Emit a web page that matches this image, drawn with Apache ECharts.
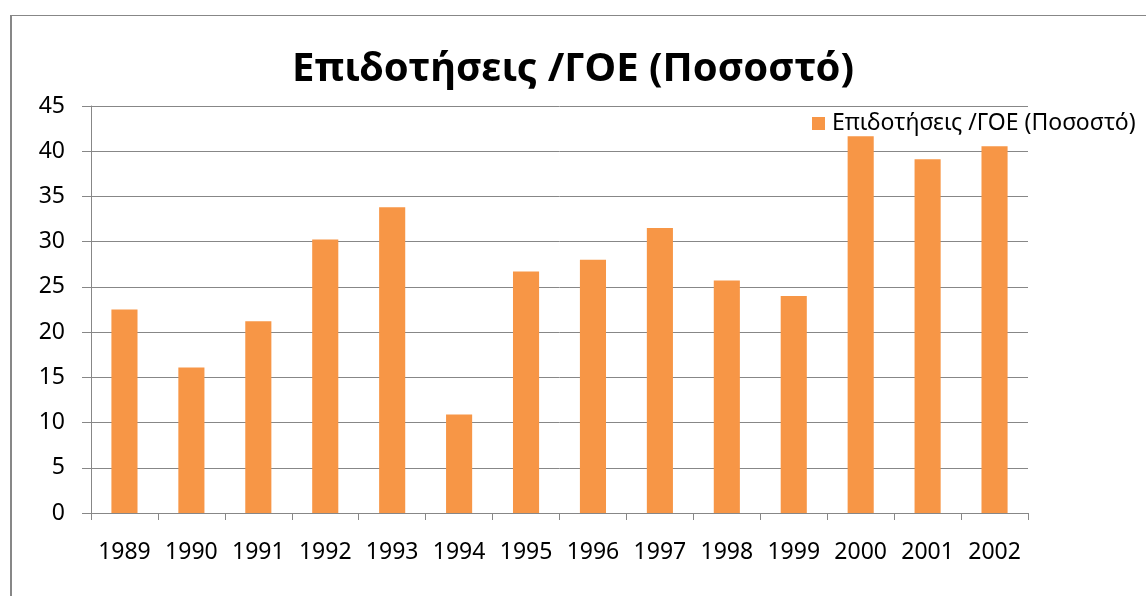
<!DOCTYPE html>
<html>
<head>
<meta charset="utf-8">
<script src="https://cdn.jsdelivr.net/npm/echarts@6/dist/echarts.min.js"></script>
<style>
html,body{margin:0;padding:0;background:#fff;}
#c{width:1146px;height:596px;}
</style>
</head>
<body>
<div id="c"></div>
<script>
var titleText = 'Επιδοτήσεις /ΓΟΕ (Ποσοστό)';
var seriesName = 'Επιδοτήσεις /ΓΟΕ (Ποσοστό)';
var categories = ['1989','1990','1991','1992','1993','1994','1995','1996','1997','1998','1999','2000','2001','2002'];
var values = [22.5, 16.1, 21.2, 30.25, 33.8, 10.9, 26.7, 28.0, 31.5, 25.7, 24.0, 41.65, 39.1, 40.55];
var yTicks = {min: 0, max: 45, interval: 5};

var FONT = '"Noto Sans", "DejaVu Sans", sans-serif';
var chart = echarts.init(document.getElementById('c'), null, {renderer: 'canvas'});
chart.setOption({
  backgroundColor: '#ffffff',
  animation: false,
  title: {
    text: titleText,
    left: 'center',
    top: 50,
    padding: 0,
    textStyle: {fontFamily: FONT, fontWeight: 'bold', fontSize: 40, color: '#000'}
  },
  legend: {
    data: [seriesName],
    left: 812,
    top: 112,
    padding: 0,
    itemWidth: 13,
    itemHeight: 13,
    itemGap: 6,
    icon: 'rect',
    textStyle: {fontFamily: FONT, fontSize: 23, color: '#000', padding: [0, 0, 0, 2]}
  },
  graphic: [
    {type: 'line', shape: {x1: 11, y1: 15, x2: 11, y2: 596}, style: {stroke: '#878787', lineWidth: 2}, silent: true},
    {type: 'line', shape: {x1: 10, y1: 15.5, x2: 1146, y2: 15.5}, style: {stroke: '#878787', lineWidth: 1}, silent: true}
  ],
  grid: {left: 91, right: 118, top: 106, bottom: 83, containLabel: false},
  xAxis: {
    type: 'category',
    data: categories,
    axisLine: {lineStyle: {color: '#878787', width: 1}},
    axisTick: {show: true, length: 7, lineStyle: {color: '#878787'}},
    axisLabel: {fontFamily: FONT, fontSize: 23, color: '#000', margin: 28, interval: 0, hideOverlap: false}
  },
  yAxis: {
    type: 'value',
    min: yTicks.min,
    max: yTicks.max,
    interval: yTicks.interval,
    axisLine: {show: true, lineStyle: {color: '#878787', width: 1}},
    axisTick: {show: true, length: 9, lineStyle: {color: '#878787'}},
    splitLine: {show: true, lineStyle: {color: '#878787', width: 1}},
    axisLabel: {fontFamily: FONT, fontSize: 23, color: '#000', margin: 26}
  },
  series: [{
    name: seriesName,
    type: 'bar',
    data: values,
    barWidth: '39%',
    itemStyle: {color: '#F79646'}
  }]
});
</script>
</body>
</html>
